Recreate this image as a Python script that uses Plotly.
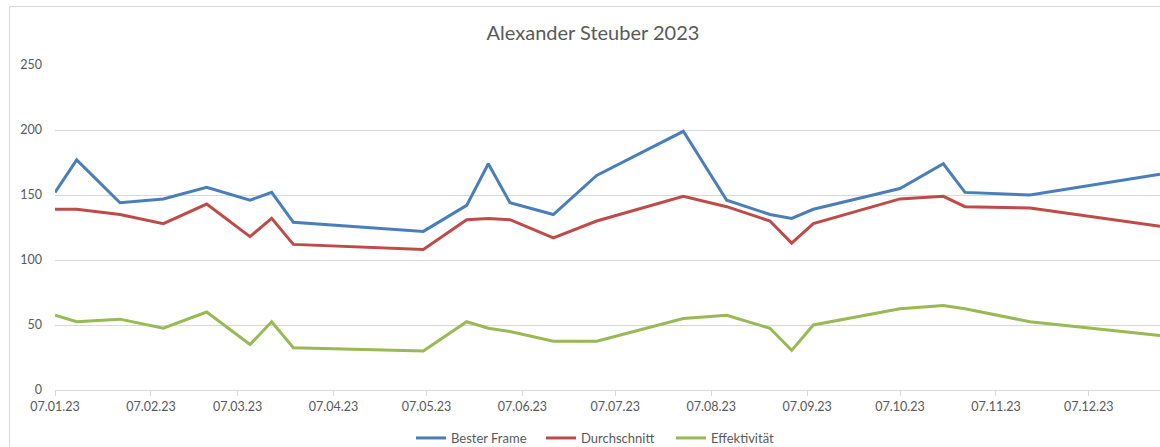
import plotly.graph_objects as go

dates = ["2023-01-07", "2023-01-14", "2023-01-28", "2023-02-11", "2023-02-25",
         "2023-03-11", "2023-03-18", "2023-03-25", "2023-05-06", "2023-05-20",
         "2023-05-27", "2023-06-03", "2023-06-17", "2023-07-01", "2023-07-29",
         "2023-08-12", "2023-08-26", "2023-09-02", "2023-09-09", "2023-10-07",
         "2023-10-21", "2023-10-28", "2023-11-18", "2023-12-30"]
bester_frame = [152, 177, 144, 147, 156, 146, 152, 129, 122, 142, 174, 144,
                135, 165, 199, 146, 135, 132, 139, 155, 174, 152, 150, 166]
durchschnitt = [139, 139, 135, 128, 143, 118, 132, 112, 108, 131, 132, 131,
                117, 130, 149, 141, 130, 113, 128, 147, 149, 141, 140, 126]
effektivitaet = [57.5, 52.5, 54.5, 47.5, 60, 35, 52.5, 32.5, 30, 52.5, 47.5, 45,
                 37.5, 37.5, 55, 57.5, 47.5, 30.5, 50, 62.5, 65, 62.5, 52.5, 42]

tick_dates = ["2023-01-07", "2023-02-07", "2023-03-07", "2023-04-07", "2023-05-07",
              "2023-06-07", "2023-07-07", "2023-08-07", "2023-09-07", "2023-10-07",
              "2023-11-07", "2023-12-07"]
tick_labels = ["07.01.23", "07.02.23", "07.03.23", "07.04.23", "07.05.23", "07.06.23",
               "07.07.23", "07.08.23", "07.09.23", "07.10.23", "07.11.23", "07.12.23"]

series = [("Bester Frame", bester_frame, "#4A7EBB"),
          ("Durchschnitt", durchschnitt, "#BE4B48"),
          ("Effektivität", effektivitaet, "#98B954")]

fig = go.Figure()
for name, vals, col in series:
    fig.add_trace(go.Scatter(x=dates, y=vals, name=name, mode="lines",
                             line=dict(color=col, width=3)))

W, H = 1160, 447
L, R, T, B = 55, 0, 65, 57
pw, ph = W - L - R, H - T - B
font = "Lato, Carlito, Calibri, sans-serif"
grey = "#595959"

fig.update_layout(
    width=W, height=H,
    margin=dict(l=L, r=R, t=T, b=B, autoexpand=False),
    paper_bgcolor="white", plot_bgcolor="white",
    font=dict(family=font, size=12.5, color=grey),
    title=dict(text="Alexander Steuber 2023", x=593 / W, xanchor="center",
               y=1 - 33 / H, yanchor="middle", font=dict(size=20, color=grey, family=font)),
    xaxis=dict(type="date", range=["2023-01-07", "2023-12-30"],
               tickvals=tick_dates, ticktext=tick_labels, showgrid=False,
               showline=True, linecolor="#D9D9D9", linewidth=1,
               ticks="outside", ticklen=5, tickcolor="#D9D9D9",
               tickfont=dict(size=12.5, color=grey), zeroline=False),
    yaxis=dict(range=[0, 250], dtick=50, showgrid=True, gridcolor="#D9D9D9",
               gridwidth=1, zeroline=False, showline=False, ticks="",
               ticklabelstandoff=12, tickfont=dict(size=12.5, color=grey)),
    legend=dict(orientation="h", x=(606 - L) / pw, xanchor="center",
                y=(390 - 438) / ph, yanchor="middle",
                font=dict(size=13, color=grey), itemwidth=30, tracegroupgap=0,
                entrywidth=85, entrywidthmode="pixels"),
    showlegend=True,
    shapes=[dict(type="rect", xref="paper", yref="paper",
                 x0=(9.5 - L) / pw, x1=1.1, y0=-0.5, y1=(390 - 6.5) / ph,
                 line=dict(color="#D9D9D9", width=1), fillcolor="rgba(0,0,0,0)",
                 layer="below")],
)

fig.write_html("out.html", config={"displayModeBar": False},
               post_script="document.body.style.margin='0';document.body.style.overflow='hidden';")
